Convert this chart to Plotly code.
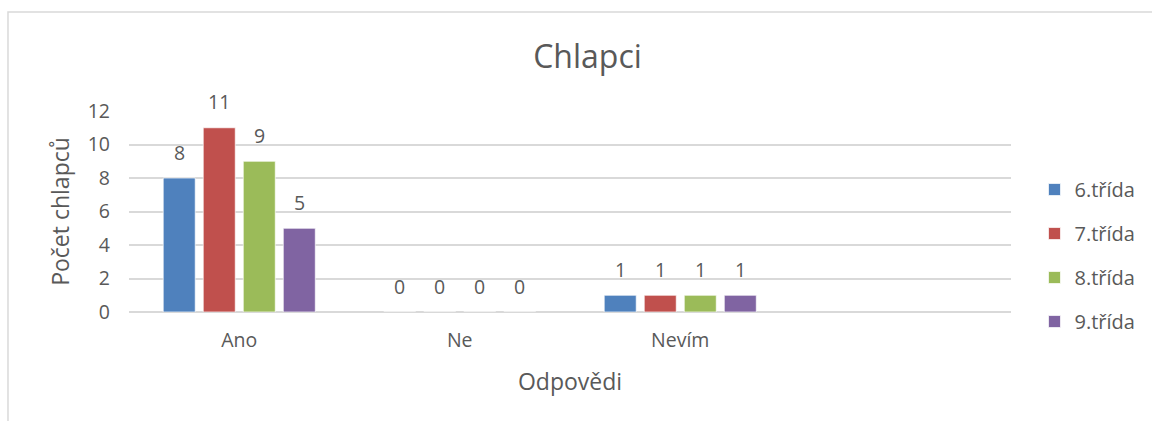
import plotly.graph_objects as go

# Data
categories = ["Ano", "Ne", "Nevím"]
series_names = ["6.třída", "7.třída", "8.třída", "9.třída"]
values_6 = [8, 0, 1]
values_7 = [11, 0, 1]
values_8 = [9, 0, 1]
values_9 = [5, 0, 1]
y_ticks = [0, 2, 4, 6, 8, 10, 12]

series_values = [values_6, values_7, values_8, values_9]
colors = ["#4F81BD", "#C0504D", "#9BBB59", "#8064A2"]

FONT = "Open Sans"
TEXT = "#595959"
GRID = "#D9D9D9"

figure = go.Figure()

for i, (name, vals) in enumerate(zip(series_names, series_values)):
    figure.add_trace(
        go.Bar(
            x=categories,
            y=vals,
            name=name,
            legendgroup=name,
            marker=dict(color=colors[i], line=dict(color="rgba(255,255,255,0.7)", width=1)),
            hoverinfo="x+y+name"
        )
    )

# Data labels above bars (slot width 40 px inside each category group)
slot = 40
for i, vals in enumerate(series_values):
    for cat, v in zip(categories, vals):
        figure.add_annotation(
            x=cat,
            y=v,
            text=str(v),
            showarrow=False,
            xshift=(i - 1.5) * slot,
            yshift=26,
            yanchor="middle",
            font=dict(family=FONT, size=19.5, color=TEXT)
        )

# Chart area border (left and top visible)
figure.add_shape(
    type="rect",
    xref="paper",
    yref="paper",
    x0=-0.1372,
    x1=1.4,
    y0=-0.8,
    y1=1.4925,
    line=dict(color=GRID, width=1.5),
    layer="below"
)

figure.update_layout(
    width=1152,
    height=421,
    margin=dict(l=129, r=141, t=111, b=109, autoexpand=False),
    paper_bgcolor="white",
    plot_bgcolor="white",
    font=dict(family=FONT, size=19.5, color=TEXT),
    title=dict(
        text="Chlapci",
        x=0.51,
        xanchor="center",
        y=0.865,
        yanchor="middle",
        font=dict(family=FONT, size=32, color=TEXT)
    ),
    bargap=0.274,
    bargroupgap=0.2,
    barmode="group",
    showlegend=True,
    legend=dict(
        xref="container",
        x=0.898,
        y=0.281,
        yanchor="middle",
        xanchor="left",
        tracegroupgap=15,
        font=dict(family=FONT, size=20, color=TEXT),
        itemclick=False
    )
)

figure.update_xaxes(
    type="category",
    categoryorder="array",
    categoryarray=categories,
    range=[-0.5, 3.5],
    showgrid=False,
    showline=False,
    ticks="",
    automargin=False,
    ticklabelstandoff=14,
    title=dict(text="Odpovědi", standoff=22, font=dict(family=FONT, size=23, color=TEXT))
)

figure.update_yaxes(
    range=[0, 12],
    tickvals=y_ticks,
    showgrid=True,
    gridcolor=GRID,
    gridwidth=1.5,
    zeroline=True,
    zerolinecolor=GRID,
    zerolinewidth=1.5,
    showline=False,
    ticks="",
    automargin=False,
    ticklabelstandoff=18,
    title=dict(text="Počet chlapců", standoff=11, font=dict(family=FONT, size=23, color=TEXT))
)

figure.write_html(
    "out.html",
    config={"displayModeBar": False},
    post_script="document.body.style.margin='0';document.body.style.overflow='hidden';"
)
